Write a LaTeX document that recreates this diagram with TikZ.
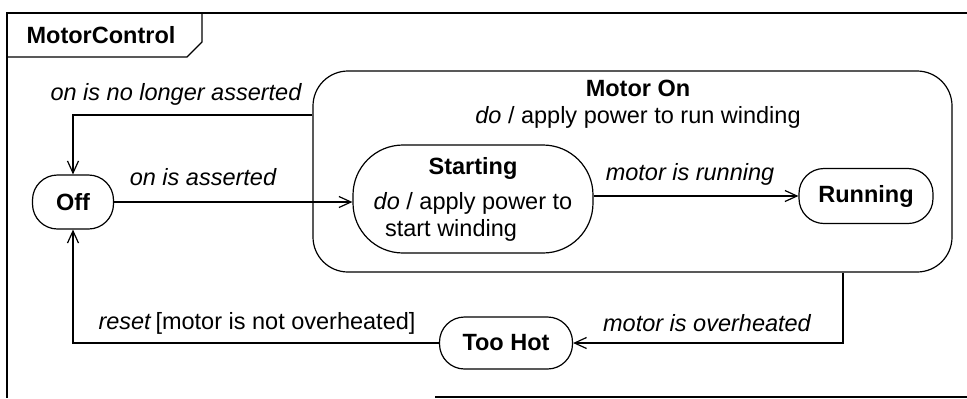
\documentclass[tikz,border=0pt]{standalone}
\usepackage{fontspec}
\setmainfont{Liberation Sans}
\usetikzlibrary{arrows.meta,positioning}
\newcommand{\mcfont}{\fontsize{11.75}{13.5}\selectfont}
\tikzset{
    mcstate/.style={draw, line width=0.6pt, align=center, font=\mcfont\bfseries, inner sep=2pt, rounded corners=12.5pt},
    mcarrow/.style={-{Straight Barb[length=6pt,width=5.5pt]}, line width=0.6pt},
    mcline/.style={line width=0.6pt},
    mclabel/.style={align=center, font=\mcfont\itshape, inner sep=1pt},
    mctext/.style={align=center, font=\mcfont, inner sep=1pt}
}

\begin{document}
\begin{tikzpicture}[x=0.5pt, y=-0.5pt]
    \useasboundingbox (0,0) rectangle (967,398);
    % frame and its tab
    \draw[mcline] (967,13) -- (7,13) -- (7,398);
    \draw[mcline] (435,397) -- (967,397);
    \draw[mcline] (7,57) -- (187,57) -- (202,42) -- (202,13);
    \node[mctext, font=\mcfont\bfseries] (frametitle) at (101,35) {MotorControl};
    % states
    \node[mcstate, minimum width=40.5pt, minimum height=27pt] (off) at (73,202) {Off};
    \node[draw, mcline, rounded corners=17.5pt, minimum width=319.5pt, minimum height=100.5pt] (motoron) at (632.5,171.5) {};
    \node[mctext] (motorontitle) at (638,104) {\textbf{Motor On}\\\textit{do} / apply power to run winding};
    \node[mcstate, font=\mcfont, rounded corners=25pt, minimum width=120pt, minimum height=54pt] (starting) at (473,199) {\textbf{Starting}\\[4pt]\textit{do} / apply power to\\\hspace*{-22pt}start winding};
    \node[mcstate, minimum width=67pt, minimum height=27.5pt] (running) at (866,196) {Running};
    \node[mcstate, minimum width=66.5pt, minimum height=26pt] (toohot) at (506,343) {Too Hot};
    % transitions
    \coordinate (offexit) at (motoron.west |- 0,115);
    \coordinate (hotexit) at (motoron.south -| 843,0);
    \draw[mcarrow] (offexit) -| (off.north);
    \draw[mcarrow] (off.east) -- (off.east -| starting.west);
    \draw[mcarrow] (starting.east |- running.west) -- (running.west);
    \draw[mcarrow] (hotexit) |- (toohot.east);
    \draw[mcarrow] (toohot.west) -| (off.south);
    % transition labels
    \node[mclabel] (lblnolonger) at (176,94) {on is no longer asserted};
    \node[mclabel] (lblasserted) at (203,177) {on is asserted};
    \node[mclabel] (lblrunning) at (690,174) {motor is running};
    \node[mclabel] (lbloverheated) at (707,323) {motor is overheated};
    \node[mctext] (lblreset) at (257,323) {\textit{reset}\,[motor is not overheated]};
\end{tikzpicture}
\end{document}
